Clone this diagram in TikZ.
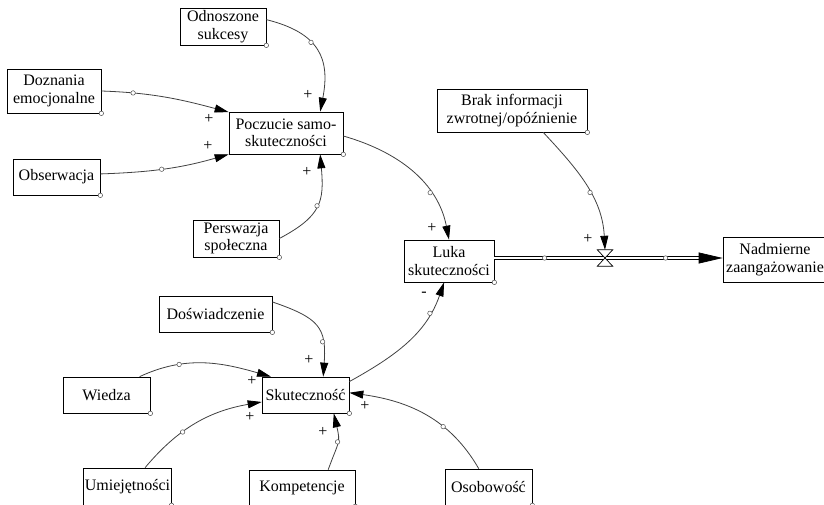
\documentclass[tikz,border=0pt]{standalone}
\usepackage{fontspec}
\setmainfont{Liberation Serif}
\usetikzlibrary{arrows.meta}

\begin{document}
\begin{tikzpicture}
[x=1pt,y=1pt,
var/.style 2 args={draw, fill=white, line width=0.7pt, align=center, inner sep=1pt,
  minimum width=#1, minimum height=#2, font=\fontsize{16}{17.5}\selectfont},
link/.style={draw=black!75, line width=0.8pt, -{Triangle[length=14pt,width=8pt,color=black]}},
hdl/.style={circle, draw=black!70, fill=white, line width=0.5pt, inner sep=0pt, minimum size=4.5pt},
pol/.style={inner sep=0pt, font=\fontsize{16}{16}\selectfont},
pipe/.style={draw, line width=0.7pt, double=white, double distance=2pt},
]
\useasboundingbox (0,0) rectangle (824,-505);
\clip (0,0) rectangle (824,-505);

\node[var={86pt}{37pt}]  (odn)  at (223,-26.5)   {Odnoszone\\sukcesy};
\node[var={94pt}{44pt}]  (dozn) at (54,-91)      {Doznania\\emocjonalne};
\node[var={114pt}{42pt}] (pocz) at (286,-133)    {Poczucie samo-\\skuteczności};
\node[var={87pt}{36pt}]  (obs)  at (56.5,-177)   {Obserwacja};
\node[var={86pt}{37pt}]  (pers) at (236,-238.5)  {Perswazja\\społeczna};
\node[var={150pt}{43pt}] (brak) at (512,-110.5)  {Brak informacji\\zwrotnej/opóźnienie};
\node[var={90pt}{42pt}]  (luka) at (449,-261)    {Luka\\skuteczności};
\node[var={104pt}{45pt}] (nadm) at (775,-259.5)  {Nadmierne\\zaangażowanie};
\node[var={113pt}{36pt}] (dosw) at (215.5,-314)  {Doświadczenie};
\node[var={87pt}{36pt}]  (wied) at (106.5,-395)  {Wiedza};
\node[var={87pt}{36pt}]  (skut) at (305.5,-395)  {Skuteczność};
\node[var={87pt}{37pt}]  (umie) at (127.5,-486.5) {Umiejętności};
\node[var={106pt}{36pt}] (komp) at (302,-488)    {Kompetencje};
\node[var={87pt}{36pt}]  (osob) at (488.5,-487)  {Osobowość};

\foreach \v in {odn,dozn,pocz,obs,pers,brak,luka,nadm,dosw,wied,skut,umie,komp,osob}
  \node[hdl] at (\v.south east) {};

% flow with valve
\node[minimum width=15pt, minimum height=16pt, inner sep=0pt] (v) at (605,-258) {};
\draw[pipe, shorten >=24pt] (luka.east |- v) -- (nadm.west |- v);
\path (luka.east |- v) -- node[hdl,pos=.22]{} node[hdl,pos=.75]{} coordinate[pos=.895] (tb) (nadm.west |- v);
\draw[line width=0.7pt, -{Triangle[length=24pt,width=11pt]}] (tb) -- (nadm.west |- v);
\draw[fill=white, line width=0.7pt] (v.north west) -- (v.north east) -- (v.south west) -- (v.south east) -- cycle;

\draw[link] (odn.9)     to[out=-14,in=79,looseness=1.3] node[hdl,pos=.4]{}  (pocz.32);
\draw[link] (dozn.east) to[out=-2,in=165]               node[hdl,pos=.23]{} (pocz.160);
\draw[link] (obs.4)     to[out=2,in=196]                node[hdl,pos=.47]{} (pocz.south west);
\draw[link] (pers.east) to[out=28,in=-85,looseness=1.3] node[hdl,pos=.5]{}  (pocz.-32);
\draw[link] (pocz.-3)   to[out=-16,in=101]              node[hdl,pos=.68]{} (luka.north);
\draw[link] (brak.-35)  to[out=-47,in=93]               node[hdl,pos=.56]{} (v.north);
\draw[link] (skut.17)   to[out=29,in=-109]              node[hdl,pos=.77]{} (luka.-103);
\draw[link] (dosw.12)   to[out=-19,in=86,looseness=1.4] node[hdl,pos=.7]{}  (skut.46);
\draw[link] (wied.29)   to[out=25,in=164]               node[hdl,pos=.3]{}  (skut.152);
\draw[link] (umie.47)   to[out=50,in=190]               node[hdl,pos=.37]{} (skut.189);
\draw[link] (komp.35)   to[out=70,in=-77,looseness=1.4] node[hdl,pos=.5]{}  (skut.-33);
\draw[link] (osob.118)  to[out=120,in=-8]               node[hdl,pos=.35]{} (skut.3);

\foreach \x/\y/\s [count=\i] in {308/95/+, 209/119/+, 208/146/+, 307/172/+, 432/228/+, 588/239/+,
  424/294/-, 309/360/+, 252/381/+, 250/417/+, 323/432/+, 365/406/+}
  \node[pol] (p\i) at (\x,-\y) {\s};
\end{tikzpicture}
\end{document}
